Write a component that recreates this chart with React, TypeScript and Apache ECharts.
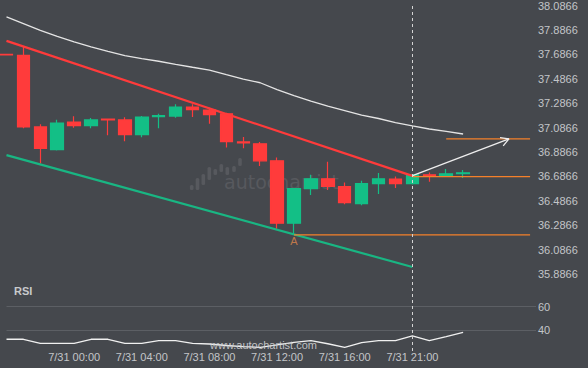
import React, { useEffect, useRef } from 'react';
import * as echarts from 'echarts';

// ---- data ----
const times = [
  '7/30 20:00', '7/30 21:00', '7/30 22:00', '7/30 23:00', '7/31 00:00', '7/31 01:00', '7/31 02:00',
  '7/31 03:00', '7/31 04:00', '7/31 05:00', '7/31 06:00', '7/31 07:00', '7/31 08:00', '7/31 09:00',
  '7/31 10:00', '7/31 11:00', '7/31 12:00', '7/31 13:00', '7/31 14:00', '7/31 15:00', '7/31 16:00',
  '7/31 18:00', '7/31 19:00', '7/31 20:00', '7/31 21:00', '7/31 22:00', '7/31 23:00', '8/1 00:00',
];
const labeledIdx = [4, 8, 12, 16, 20, 24];

const opens = [37.686, 37.679, 37.092, 36.906, 37.132, 37.102, 37.157, 37.149, 37.029, 37.177, 37.181, 37.255, 37.230, 37.200,
  36.969, 36.953, 36.814, 36.303, 36.586, 36.667, 36.602, 36.463, 36.627, 36.665, 36.627, 36.700, 36.692, 36.708];
const closes = [37.682, 37.092, 36.915, 37.124, 37.102, 37.149, 37.149, 37.029, 37.173, 37.185, 37.255, 37.233, 37.192, 36.972,
  36.961, 36.814, 36.303, 36.586, 36.667, 36.605, 36.472, 36.627, 36.667, 36.627, 36.700, 36.692, 36.708, 36.716];
const lows = [37.680, 37.081, 36.792, 36.898, 37.086, 37.081, 37.024, 36.975, 37.008, 37.081, 37.167, 37.173, 37.118, 36.923,
  36.918, 36.771, 36.257, 36.208, 36.534, 36.575, 36.458, 36.450, 36.543, 36.592, 36.620, 36.643, 36.686, 36.673];
const highs = [37.688, 37.752, 37.114, 37.151, 37.179, 37.165, 37.159, 37.171, 37.181, 37.200, 37.277, 37.277, 37.249, 37.208,
  37.010, 36.969, 36.841, 36.590, 36.700, 36.806, 36.637, 36.651, 36.714, 36.686, 36.703, 36.719, 36.747, 36.738];

const maValues = [37.993, 37.938, 37.883, 37.834, 37.789, 37.748, 37.711, 37.676, 37.652, 37.630, 37.605, 37.581, 37.558, 37.520,
  37.483, 37.454, 37.397, 37.348, 37.304, 37.263, 37.226, 37.189, 37.161, 37.128, 37.100, 37.075, 37.055, 37.034];

const rsiValues = [32.4, 32.4, 29.0, 29.0, 29.0, 32.4, 32.4, 29.0, 29.0, 31.2, 31.2, 29.0, 28.4, 27.1,
  26.1, 25.6, 27.6, 29.8, 31.2, 28.6, 25.6, 29.5, 31.2, 31.2, 35.2, 31.2, 34.6, 38.3];
const rsiLevels = [60, 40];

const resistanceLine = [[0, 37.797], [24, 36.691]];
const supportChannel = [[0, 36.861], [24, 35.944]];
const supportLevel = [[17, 36.208], [30.96, 36.208]];
const breakoutLevel = [[24, 36.684], [30.96, 36.684]];
const targetLevel = [[26, 36.994], [30.96, 36.994]];
const arrowShaft = [[24.01, 36.692], [29.71, 36.9936]];
const arrowHead = [[29.18, 37.005], [29.71, 36.9936], [29.37, 36.9366]];
const patternLabel = { idx: 17, value: 36.208, text: 'A' };
const nowIdx = 24;

const priceMin = 35.8866;
const priceMax = 38.0872;
const priceStep = 0.2;

// ---- style ----
const BG = '#45484d';
const RED = '#ff3b3b';
const GREEN = '#13bf86';
const ORANGE = '#f5802a';
const LABEL = '#c3c5c8';
const FONT = '"Liberation Sans", Arial, sans-serif';
const LEFT = 6.5;
const RIGHT = 52;
const X_MAX = 31.31;

export default function App() {
  const ref = useRef<HTMLDivElement>(null);

  useEffect(() => {
    const chart = echarts.init(ref.current!, null, { renderer: 'svg' });
    const candleData = times.map((_, i) => [i, opens[i], closes[i], lows[i], highs[i]]);
    const maData = maValues.map((v, i) => [i, v]);
    const rsiData = rsiValues.map((v, i) => [i, v]);

    const orangeLine = (data: number[][]) => ({
      type: 'line', xAxisIndex: 0, yAxisIndex: 0, data, symbol: 'none', silent: true, z: 4,
      lineStyle: { color: ORANGE, width: 1.2 },
    });

    const logoBars = [
      [191.7, 185, 190], [197.5, 178, 190], [203.3, 174, 185], [209.3, 167, 180], [215.3, 169, 175],
      [221.3, 164, 172], [227.3, 167, 175], [234, 166, 172], [240, 158, 166],
    ];

    const option: any = {
      animation: false,
      backgroundColor: BG,
      textStyle: { fontFamily: FONT },
      graphic: [
        ...logoBars.map((b) => ({
          type: 'rect', z: -10, silent: true,
          shape: { x: b[0] - 1.8, y: b[1], width: 3.6, height: b[2] - b[1], r: 1.5 },
          style: { fill: '#57595e' },
        })),
        {
          type: 'text', z: -10, silent: true, left: 224, top: 172,
          style: { text: 'autochartist', fill: '#57595e', font: '19px "DejaVu Sans", sans-serif' },
        },
        {
          type: 'text', z: 100, silent: true, left: 14, top: 285,
          style: { text: 'RSI', fill: '#c8cacc', font: `bold 11px ${FONT}` },
        },
        {
          type: 'text', z: 100, silent: true, left: 210, top: 339,
          style: { text: 'www.autochartist.com', fill: '#cfd0d2', font: `11px ${FONT}`, opacity: 0.9 },
        },
      ],
      grid: [
        { left: LEFT, right: RIGHT, top: 4, height: 270 },
        { left: LEFT, right: RIGHT, top: 289, height: 59 },
        { left: LEFT, right: RIGHT, top: 4, height: 347 },
      ],
      xAxis: [
        { gridIndex: 0, type: 'value', min: 0, max: X_MAX, show: false },
        {
          gridIndex: 1, type: 'value', min: 0, max: X_MAX, interval: 4,
          axisLine: { show: false }, axisTick: { show: false }, splitLine: { show: false },
          axisLabel: {
            color: LABEL, fontSize: 11, fontFamily: FONT, margin: 3,
            formatter: (v: number) => {
              const i = Math.round(v);
              return Math.abs(v - i) < 1e-6 && labeledIdx.includes(i) ? times[i] : '';
            },
          },
        },
        { gridIndex: 2, type: 'value', min: 0, max: X_MAX, show: false },
      ],
      yAxis: [
        {
          gridIndex: 0, type: 'value', position: 'right', min: priceMin, max: priceMax, interval: priceStep,
          axisLine: { show: false }, axisTick: { show: false }, splitLine: { show: false },
          axisLabel: {
            color: LABEL, fontSize: 11, fontFamily: FONT, margin: 2,
            formatter: (v: number) => (Math.round((v - 0.0866) * 5) / 5 + 0.0866).toFixed(4),
          },
        },
        {
          gridIndex: 1, type: 'value', position: 'right', min: 25, max: 75, interval: 5,
          axisLine: { show: false }, axisTick: { show: false }, splitLine: { show: false },
          axisLabel: {
            color: LABEL, fontSize: 11, fontFamily: FONT, margin: 2,
            formatter: (v: number) => (rsiLevels.includes(v) ? String(v) : ''),
          },
        },
        { gridIndex: 2, type: 'value', min: 0, max: 1, show: false },
      ],
      series: [
        {
          type: 'candlestick', xAxisIndex: 0, yAxisIndex: 0, data: candleData,
          encode: { x: 0, y: [1, 2, 3, 4] }, barWidth: 13, z: 3,
          itemStyle: { color: GREEN, color0: RED, borderColor: GREEN, borderColor0: RED, borderWidth: 1.2 },
        },
        {
          type: 'line', xAxisIndex: 0, yAxisIndex: 0, data: maData, symbol: 'none', smooth: false, z: 2,
          lineStyle: { color: '#e4e4e4', width: 1.3 },
        },
        {
          type: 'line', xAxisIndex: 0, yAxisIndex: 0, data: resistanceLine, symbol: 'none', z: 4,
          lineStyle: { color: RED, width: 2.2 },
        },
        {
          type: 'line', xAxisIndex: 0, yAxisIndex: 0, data: supportChannel, symbol: 'none', z: 4,
          lineStyle: { color: '#19b683', width: 2.2 },
        },
        orangeLine(supportLevel),
        orangeLine(breakoutLevel),
        orangeLine(targetLevel),
        {
          type: 'line', xAxisIndex: 0, yAxisIndex: 0, data: arrowShaft, symbol: 'none', z: 5,
          lineStyle: { color: '#eeeeee', width: 1.3 },
        },
        {
          type: 'line', xAxisIndex: 0, yAxisIndex: 0, data: arrowHead, symbol: 'none', z: 5,
          lineStyle: { color: '#eeeeee', width: 1.3 },
        },
        {
          type: 'scatter', xAxisIndex: 0, yAxisIndex: 0, symbolSize: 0, silent: true, z: 6,
          data: [[patternLabel.idx, patternLabel.value]],
          label: {
            show: true, position: 'bottom', distance: 1, formatter: patternLabel.text,
            color: '#e0864a', fontSize: 11, fontFamily: FONT,
          },
        },
        {
          type: 'line', xAxisIndex: 1, yAxisIndex: 1, data: rsiData, symbol: 'none', z: 3,
          lineStyle: { color: '#f0f0f0', width: 1.3 },
          markLine: {
            silent: true, symbol: 'none', label: { show: false },
            lineStyle: { color: '#5c5f64', width: 1, type: 'solid' },
            data: rsiLevels.map((v) => ({ yAxis: v })),
          },
        },
        {
          type: 'line', xAxisIndex: 2, yAxisIndex: 2, data: [[nowIdx, 0]], symbol: 'none', z: 7,
          lineStyle: { opacity: 0 },
          markLine: {
            silent: true, symbol: 'none', label: { show: false },
            lineStyle: { color: '#d4d4d4', width: 1, type: [3, 3] },
            data: [{ xAxis: nowIdx }],
          },
        },
      ],
    };
    chart.setOption(option);
    return () => chart.dispose();
  }, []);

  return <div ref={ref} style={{ position: 'fixed', left: 0, top: 0, width: 588, height: 368 }} />;
}
